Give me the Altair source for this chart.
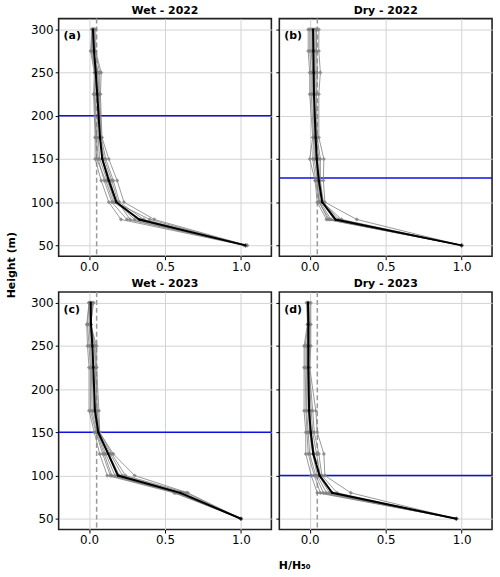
import altair as alt
import pandas as pd

# Measurement heights (m), bottom to top
HEIGHTS = [50, 80, 100, 125, 150, 175, 225, 250, 275, 300]

PANEL_TITLES = ["Wet - 2022", "Dry - 2022", "Wet - 2023", "Dry - 2023"]
PANEL_TAGS = ["(a)", "(b)", "(c)", "(d)"]
BLUE_LEVELS = [200, 128, 150, 100]
THRESHOLD = 0.05

# Mean normalised profiles H/H50 per season
MEAN_A = [1.03, 0.33, 0.18, 0.13, 0.087, 0.072, 0.054, 0.044, 0.033, 0.026]
MEAN_B = [1.0, 0.17, 0.082, 0.06, 0.046, 0.039, 0.028, 0.026, 0.024, 0.022]
MEAN_C = [1.0, 0.60, 0.19, 0.126, 0.061, 0.039, 0.028, 0.022, 0.013, 0.011]
MEAN_D = [0.965, 0.148, 0.065, 0.024, 0.007, -0.004, -0.009, -0.009, -0.009, -0.011]

# Individual profiles per season
GRAY_A = [
    [1.02, 0.21, 0.13, 0.08, 0.04, 0.04, 0.03, 0.035, 0.01, 0.02],
    [1.03, 0.25, 0.15, 0.10, 0.06, 0.05, 0.04, 0.045, 0.02, 0.025],
    [1.03, 0.30, 0.18, 0.14, 0.09, 0.07, 0.06, 0.06, 0.03, 0.03],
    [1.04, 0.36, 0.20, 0.16, 0.11, 0.08, 0.07, 0.07, 0.04, 0.035],
    [1.04, 0.43, 0.23, 0.185, 0.13, 0.085, 0.075, 0.08, 0.044, 0.044],
    [1.03, 0.40, 0.17, 0.12, 0.07, 0.06, 0.05, 0.05, 0.03, 0.02],
    [1.03, 0.27, 0.19, 0.15, 0.10, 0.075, 0.065, 0.055, 0.025, 0.03],
    [1.03, 0.34, 0.16, 0.11, 0.05, 0.045, 0.035, 0.04, 0.015, 0.02],
]
GRAY_B = [
    [1.0, 0.11, 0.05, 0.035, 0.0, 0.02, 0.0, 0.0, -0.01, -0.01],
    [1.0, 0.13, 0.06, 0.05, 0.03, 0.03, 0.02, 0.02, 0.01, 0.01],
    [1.0, 0.16, 0.08, 0.06, 0.05, 0.04, 0.03, 0.03, 0.03, 0.03],
    [1.0, 0.19, 0.09, 0.07, 0.07, 0.05, 0.045, 0.05, 0.045, 0.045],
    [1.0, 0.31, 0.10, 0.09, 0.093, 0.06, 0.06, 0.07, 0.06, 0.06],
    [1.0, 0.14, 0.07, 0.055, 0.04, 0.035, 0.03, 0.025, 0.02, 0.02],
    [1.0, 0.21, 0.085, 0.065, 0.06, 0.045, 0.04, 0.04, 0.04, 0.04],
    [1.0, 0.12, 0.065, 0.04, 0.02, 0.025, 0.01, 0.01, 0.0, 0.0],
]
GRAY_C = [
    [1.0, 0.56, 0.12, 0.07, 0.035, 0.0, 0.0, -0.01, -0.015, 0.0],
    [1.0, 0.58, 0.15, 0.10, 0.05, 0.02, 0.015, 0.01, 0.0, 0.005],
    [1.0, 0.61, 0.20, 0.13, 0.06, 0.04, 0.03, 0.025, 0.01, 0.015],
    [1.0, 0.64, 0.24, 0.15, 0.07, 0.055, 0.045, 0.04, 0.013, 0.025],
    [1.0, 0.65, 0.30, 0.16, 0.07, 0.065, 0.05, 0.05, 0.01, 0.03],
    [1.0, 0.60, 0.17, 0.11, 0.055, 0.03, 0.02, 0.02, 0.005, 0.01],
    [1.0, 0.62, 0.22, 0.14, 0.065, 0.05, 0.04, 0.035, 0.01, 0.02],
    [1.0, 0.57, 0.14, 0.09, 0.045, 0.01, 0.01, 0.0, -0.01, 0.0],
]
GRAY_D = [
    [0.965, 0.05, 0.01, -0.026, -0.026, -0.037, -0.037, -0.037, -0.015, -0.02],
    [0.965, 0.09, 0.04, 0.0, -0.01, -0.02, -0.02, -0.02, -0.01, -0.015],
    [0.965, 0.13, 0.06, 0.03, 0.01, 0.0, -0.01, -0.01, -0.008, -0.01],
    [0.965, 0.18, 0.08, 0.06, 0.03, 0.02, -0.005, 0.0, 0.0, -0.005],
    [0.965, 0.27, 0.10, 0.093, 0.05, 0.04, 0.0, 0.007, 0.007, 0.007],
    [0.965, 0.11, 0.05, 0.02, 0.0, -0.01, -0.015, -0.015, -0.012, -0.012],
    [0.965, 0.15, 0.07, 0.045, 0.02, 0.01, -0.008, -0.005, -0.005, -0.008],
    [0.965, 0.07, 0.03, -0.01, -0.018, -0.025, -0.03, -0.03, -0.012, -0.018],
]

MEANS = [MEAN_A, MEAN_B, MEAN_C, MEAN_D]
GRAYS = [GRAY_A, GRAY_B, GRAY_C, GRAY_D]

PANEL_W = 214
PANEL_H = 239
FONT = "DejaVu Sans"


def make_panel(i):
    left = i % 2 == 0
    bottom_left = i == 2

    rows = []
    for pid, prof in enumerate(GRAYS[i]):
        for h, v in zip(HEIGHTS, prof):
            rows.append({"profile": pid, "height": h, "ratio": v})
    gray_df = pd.DataFrame(rows)
    mean_df = pd.DataFrame({"height": HEIGHTS, "ratio": MEANS[i]})

    x_scale = alt.Scale(domain=[-0.2, 1.2], nice=False, zero=False)
    y_scale = alt.Scale(domain=[37.5, 312.5], nice=False, zero=False)

    if bottom_left:
        x_axis = alt.Axis(values=[0, 0.5, 1.0], format=".1f", title="H/H₅₀",
                          titleX=237, titleY=36, titleBaseline="middle",
                          titleFontSize=11, titleFontWeight="bold",
                          titleFont=FONT, titleColor="#000000")
    else:
        x_axis = alt.Axis(values=[0, 0.5, 1.0], format=".1f", title=None)

    if i == 0:
        y_axis = alt.Axis(values=[50, 100, 150, 200, 250, 300], title="Height (m)",
                          titleX=-47.7, titleY=247.5, titleBaseline="middle",
                          titleAngle=270, titleFontSize=11, titleFontWeight="bold",
                          titleFont=FONT, titleColor="#000000")
    elif left:
        y_axis = alt.Axis(values=[50, 100, 150, 200, 250, 300], title=None)
    else:
        y_axis = alt.Axis(values=[50, 100, 150, 200, 250, 300], title=None, labels=False)

    x_enc = alt.X("ratio:Q", scale=x_scale, axis=x_axis)
    y_enc = alt.Y("height:Q", scale=y_scale, axis=y_axis)

    base_gray = alt.Chart(gray_df).encode(
        x=x_enc, y=y_enc, detail="profile:N", order="height:Q"
    )
    gray_lines = base_gray.mark_line(color="#808080", strokeWidth=1, opacity=0.8)
    gray_pts = base_gray.mark_point(shape="diamond", filled=True, size=18,
                                    color="#808080", opacity=0.8)

    base_mean = alt.Chart(mean_df).encode(x=x_enc, y=y_enc, order="height:Q")
    mean_line = base_mean.mark_line(color="#000000", strokeWidth=2)
    mean_pts = base_mean.mark_point(shape="diamond", filled=True, size=8,
                                    color="#000000", opacity=1)

    dashed = alt.Chart().mark_rule(color="#999999", strokeWidth=1.5,
                                   strokeDash=[5, 3]).encode(x=alt.datum(THRESHOLD))
    blue = alt.Chart().mark_rule(color="#1010e0", strokeWidth=1.5).encode(
        y=alt.datum(BLUE_LEVELS[i]))

    tag = alt.Chart().mark_text(
        text=PANEL_TAGS[i], font=FONT, fontSize=11, fontWeight="bold",
        align="left", baseline="middle", color="#000000"
    ).encode(x=alt.value(5), y=alt.value(18))

    return alt.layer(
        dashed, blue, gray_lines, gray_pts, mean_line, mean_pts, tag
    ).properties(
        width=PANEL_W, height=PANEL_H,
        title=alt.TitleParams(PANEL_TITLES[i], fontSize=11, fontWeight="bold",
                              font=FONT, offset=2, anchor="middle", color="#000000"),
    )


panels = [make_panel(i) for i in range(4)]

chart = alt.concat(
    *panels, columns=2, spacing={"row": 36, "column": 8}, bounds="flush"
).properties(
    padding={"left": 4, "top": 2, "right": 6, "bottom": 4},
    background="white",
).configure_view(
    stroke="#222222", strokeWidth=1.6
).configure_axis(
    domain=False, grid=True, gridColor="#d3d3d3", gridWidth=1,
    tickColor="#000000", tickSize=3.5, tickWidth=1,
    labelFont=FONT, labelFontSize=12, labelColor="#000000", labelPadding=2,
)

chart.save("out.html", embed_options={"renderer": "svg", "actions": False})
